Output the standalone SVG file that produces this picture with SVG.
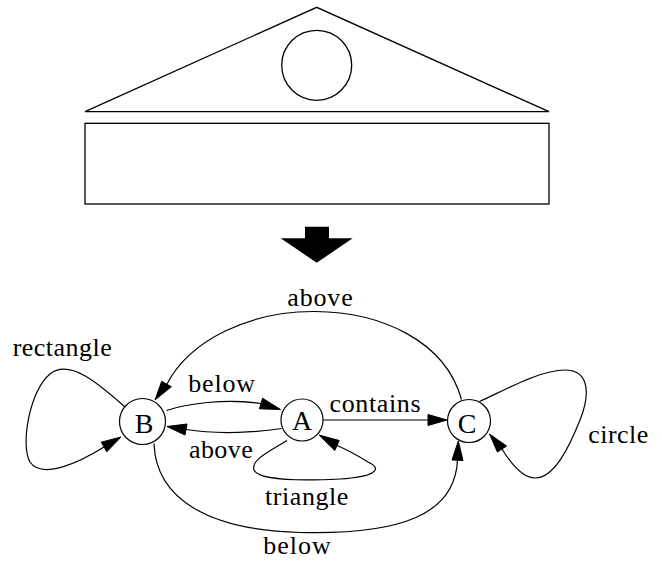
<svg xmlns="http://www.w3.org/2000/svg" width="662" height="561" viewBox="0 0 662 561">
<defs>
<style>
.shape{fill:none;stroke:#000;stroke-width:1.3}
.edge{fill:none;stroke:#000;stroke-width:1.2}
.head{fill:#000;stroke:#000;stroke-width:1}
.node{fill:#fff;stroke:#000;stroke-width:1.2}
.nl{font-family:"Liberation Serif","Times New Roman",serif;font-size:28px;text-anchor:middle;fill:#000}
.el{font-family:"Liberation Serif","Times New Roman",serif;font-size:26px;fill:#000}
</style>
</defs>
<rect width="662" height="561" fill="#fff"/>
<g id="scene">
<polygon class="shape" points="85,111.7 316.7,7.3 549,111.7"/>
<circle class="shape" cx="316.7" cy="65.3" r="35"/>
<rect class="shape" x="85" y="123.3" width="464" height="80.7"/>
<polygon fill="#000" points="305,226.7 329,226.7 329,238.3 352.7,238.3 316.7,262.7 280.7,238.3 305,238.3"/>
</g>
<g id="connectors">
<path class="edge" d="M461.5,399.5 C445,340 380,312 315,311.5 C250,311 190,340 167,384"/>
<polygon class="head" points="155,400 161.7,381.3 171.3,386.7"/>
<path class="edge" d="M124.5,406.5 C100,385 70,358 50,374 C30,390 20,445 30,462 C42,480 80,462 104,447"/>
<polygon class="head" points="121,437 106.8,451.8 101.2,442.2"/>
<path class="edge" d="M166.5,410.5 C185,404 225,398 261,403.5"/>
<polygon class="head" points="280.5,409.5 259.4,408.8 262.6,398.2"/>
<path class="edge" d="M281.5,428.5 C260,432 220,435 186,429.5"/>
<polygon class="head" points="167,426.5 187,424 185,435"/>
<path class="edge" d="M323,420 L428,420"/>
<polygon class="head" points="447,420 428,425.5 428,414.5"/>
<path class="edge" d="M287,440.5 C272,450 250,460 254,470 C258,480 300,481 340,479 C372,477 385,470 368,462 C360,457 350,451 337,445.5"/>
<polygon class="head" points="319,435 339.2,440.5 334.8,450.5"/>
<path class="edge" d="M479.5,401.5 C505,390 540,370 565,370 C590,370 590,395 580,420 C570,445 555,478 535,478 C522,478 510,462 502,449"/>
<polygon class="head" points="489.5,434 506.6,446 497.4,452"/>
<path class="edge" d="M154,443.5 C156,500 210,530 300,532.5 C400,535 455,515 457.5,460"/>
<polygon class="head" points="458.3,441 463,460.5 452,460"/>
</g>
<g id="node-B"><circle class="node" cx="142.5" cy="421.5" r="23"/><text class="nl" x="144" y="432.5">B</text></g>
<g id="node-A"><circle class="node" cx="302" cy="420" r="21"/><text class="nl" x="302" y="430">A</text></g>
<g id="node-C"><circle class="node" cx="469" cy="421" r="21.5"/><text class="nl" x="467" y="432.5">C</text></g>
<g id="labels">
<text class="el" x="287.3" y="306" textLength="65.4" lengthAdjust="spacing">above</text>
<text class="el" x="12.7" y="356" textLength="99" lengthAdjust="spacing">rectangle</text>
<text class="el" x="188.3" y="392.3" textLength="66.7" lengthAdjust="spacing">below</text>
<text class="el" x="189" y="457.7" textLength="63.7" lengthAdjust="spacing">above</text>
<text class="el" x="329.5" y="411.7" textLength="91" lengthAdjust="spacing">contains</text>
<text class="el" x="265" y="505" textLength="83.3" lengthAdjust="spacing">triangle</text>
<text class="el" x="263.3" y="554" textLength="67.4" lengthAdjust="spacing">below</text>
<text class="el" x="588.3" y="442.7" textLength="60" lengthAdjust="spacing">circle</text>
</g>
</svg>
